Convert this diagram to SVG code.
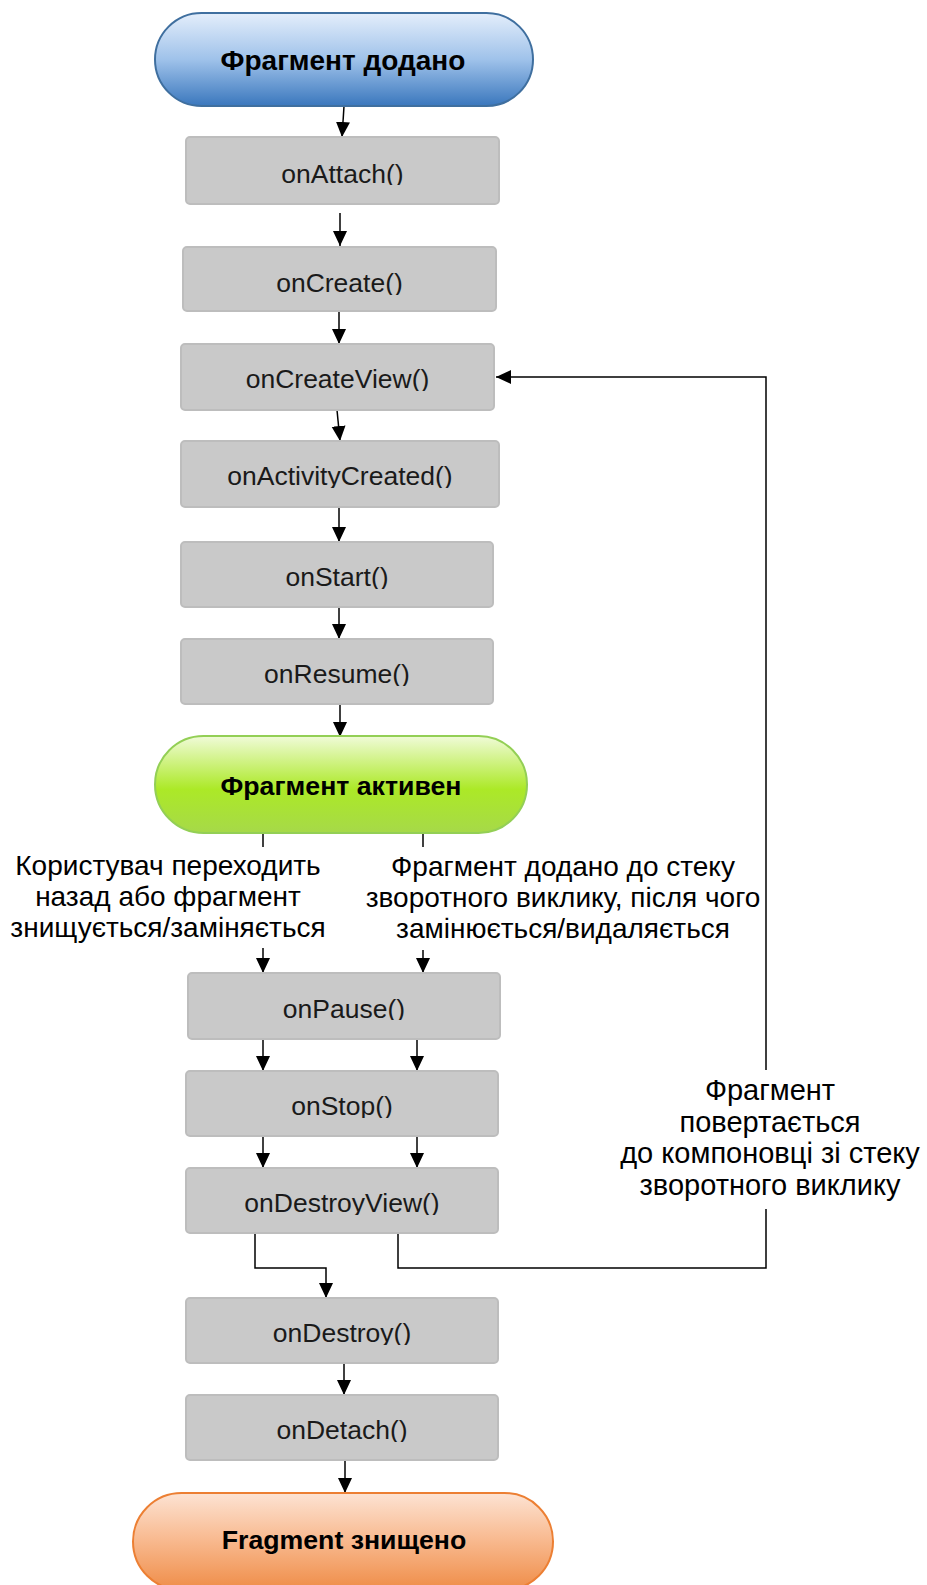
<svg xmlns="http://www.w3.org/2000/svg" width="927" height="1585" viewBox="0 0 927 1585">
  <defs>
    <linearGradient id="gBlue" x1="0" y1="0" x2="0" y2="1">
      <stop offset="0" stop-color="#e4eefb"/>
      <stop offset="0.5" stop-color="#9fc2ea"/>
      <stop offset="1" stop-color="#3a77bd"/>
    </linearGradient>
    <linearGradient id="gGreen" x1="0" y1="0" x2="0" y2="1">
      <stop offset="0" stop-color="#f0fbd8"/>
      <stop offset="0.55" stop-color="#ace927"/>
      <stop offset="1" stop-color="#a6d949"/>
    </linearGradient>
    <linearGradient id="gOrange" x1="0" y1="0" x2="0" y2="1">
      <stop offset="0" stop-color="#fde3d3"/>
      <stop offset="0.5" stop-color="#f8b88d"/>
      <stop offset="1" stop-color="#ef8d48"/>
    </linearGradient>
    <marker id="arrow" markerUnits="userSpaceOnUse" markerWidth="16" markerHeight="16" viewBox="0 0 16 16" refX="15" refY="8" orient="auto">
      <path d="M0,1 L15,8 L0,15 Z" fill="#000"/>
    </marker>
    <clipPath id="cAttach"><rect x="186" y="137" width="313" height="48"/></clipPath>
    <clipPath id="cCreate"><rect x="183" y="247" width="313" height="48"/></clipPath>
    <clipPath id="cCreateView"><rect x="181" y="344" width="313" height="47"/></clipPath>
    <clipPath id="cActivity"><rect x="181" y="441" width="318" height="47"/></clipPath>
    <clipPath id="cStart"><rect x="181" y="542" width="312" height="47"/></clipPath>
    <clipPath id="cResume"><rect x="181" y="639" width="312" height="47"/></clipPath>
    <clipPath id="cPause"><rect x="188" y="973" width="312" height="47"/></clipPath>
    <clipPath id="cStop"><rect x="186" y="1071" width="312" height="47"/></clipPath>
    <clipPath id="cDestroyView"><rect x="186" y="1168" width="312" height="47"/></clipPath>
    <clipPath id="cDestroy"><rect x="186" y="1298" width="312" height="47"/></clipPath>
    <clipPath id="cDetach"><rect x="186" y="1395" width="312" height="47"/></clipPath>
  </defs>
  <style>
    .box { fill: #c9c9c9; stroke: #bdbdbd; stroke-width: 2; }
    .lbl { font-family: "Liberation Sans", Arial, sans-serif; font-size: 26.5px; fill: #1a1a1a; text-anchor: middle; }
    .ttl { font-family: "Liberation Sans", Arial, sans-serif; font-size: 26.7px; font-weight: bold; fill: #000; text-anchor: middle; }
    .note { font-family: "Liberation Sans", Arial, sans-serif; font-size: 28px; fill: #000; text-anchor: middle; }
    .note2 { font-family: "Liberation Sans", Arial, sans-serif; font-size: 29px; fill: #000; text-anchor: middle; }
    .wire { fill: none; stroke: #000; stroke-width: 1.5; }
  </style>

  <rect width="927" height="1585" fill="#fff"/>

  <!-- connectors -->
  <g id="connectors">
    <path class="wire" d="M344,106 L342,137" marker-end="url(#arrow)"/>
    <path class="wire" d="M340,213 L340,246" marker-end="url(#arrow)"/>
    <path class="wire" d="M339,312 L339,344" marker-end="url(#arrow)"/>
    <path class="wire" d="M337,410 L340,441" marker-end="url(#arrow)"/>
    <path class="wire" d="M339,508 L339,542" marker-end="url(#arrow)"/>
    <path class="wire" d="M339,607 L339,639" marker-end="url(#arrow)"/>
    <path class="wire" d="M340,705 L340,737" marker-end="url(#arrow)"/>
    <path class="wire" d="M263,833 L263,847"/>
    <path class="wire" d="M423,833 L423,847"/>
    <path class="wire" d="M263,948 L263,973" marker-end="url(#arrow)"/>
    <path class="wire" d="M423,950 L423,973" marker-end="url(#arrow)"/>
    <path class="wire" d="M263,1039 L263,1071" marker-end="url(#arrow)"/>
    <path class="wire" d="M417,1039 L417,1071" marker-end="url(#arrow)"/>
    <path class="wire" d="M263,1136 L263,1168" marker-end="url(#arrow)"/>
    <path class="wire" d="M417,1136 L417,1168" marker-end="url(#arrow)"/>
    <path class="wire" d="M255,1233 L255,1268 L326,1268 L326,1298" marker-end="url(#arrow)"/>
    <path class="wire" d="M398,1233 L398,1268 L766,1268 L766,1209"/>
    <path class="wire" d="M766,1070 L766,377 L496,377" marker-end="url(#arrow)"/>
    <path class="wire" d="M344,1364 L344,1395" marker-end="url(#arrow)"/>
    <path class="wire" d="M345,1461 L345,1493" marker-end="url(#arrow)"/>
  </g>

  <!-- start / active / end states -->
  <g id="fragmentAdded">
    <rect x="155" y="13" width="378" height="93" rx="46.5" fill="url(#gBlue)" stroke="#3f6f9f" stroke-width="2"/>
    <text class="ttl" x="343" y="70" style="font-size:28px">Фрагмент додано</text>
  </g>
  <g id="fragmentActive">
    <rect x="155" y="736" width="372" height="97" rx="48.5" fill="url(#gGreen)" stroke="#93cf55" stroke-width="2"/>
    <text class="ttl" x="341" y="795">Фрагмент активен</text>
  </g>
  <g id="fragmentDestroyed">
    <rect x="133" y="1493" width="420" height="97" rx="48.5" fill="url(#gOrange)" stroke="#ec7f33" stroke-width="2"/>
    <text class="ttl" x="344" y="1549">Fragment знищено</text>
  </g>

  <!-- lifecycle callbacks -->
  <g id="onAttach">
    <rect class="box" x="186" y="137" width="313" height="67" rx="4"/>
    <text class="lbl" x="342.5" y="183" clip-path="url(#cAttach)">onAttach()</text>
  </g>
  <g id="onCreate">
    <rect class="box" x="183" y="247" width="313" height="64" rx="4"/>
    <text class="lbl" x="339.5" y="292" clip-path="url(#cCreate)">onCreate()</text>
  </g>
  <g id="onCreateView">
    <rect class="box" x="181" y="344" width="313" height="66" rx="4"/>
    <text class="lbl" x="337.5" y="388" clip-path="url(#cCreateView)">onCreateView()</text>
  </g>
  <g id="onActivityCreated">
    <rect class="box" x="181" y="441" width="318" height="66" rx="4"/>
    <text class="lbl" x="340" y="485" clip-path="url(#cActivity)">onActivityCreated()</text>
  </g>
  <g id="onStart">
    <rect class="box" x="181" y="542" width="312" height="65" rx="4"/>
    <text class="lbl" x="337" y="586" clip-path="url(#cStart)">onStart()</text>
  </g>
  <g id="onResume">
    <rect class="box" x="181" y="639" width="312" height="65" rx="4"/>
    <text class="lbl" x="337" y="683" clip-path="url(#cResume)">onResume()</text>
  </g>
  <g id="onPause">
    <rect class="box" x="188" y="973" width="312" height="66" rx="4"/>
    <text class="lbl" x="344" y="1018" clip-path="url(#cPause)">onPause()</text>
  </g>
  <g id="onStop">
    <rect class="box" x="186" y="1071" width="312" height="65" rx="4"/>
    <text class="lbl" x="342" y="1115" clip-path="url(#cStop)">onStop()</text>
  </g>
  <g id="onDestroyView">
    <rect class="box" x="186" y="1168" width="312" height="65" rx="4"/>
    <text class="lbl" x="342" y="1212" clip-path="url(#cDestroyView)">onDestroyView()</text>
  </g>
  <g id="onDestroy">
    <rect class="box" x="186" y="1298" width="312" height="65" rx="4"/>
    <text class="lbl" x="342" y="1342" clip-path="url(#cDestroy)">onDestroy()</text>
  </g>
  <g id="onDetach">
    <rect class="box" x="186" y="1395" width="312" height="65" rx="4"/>
    <text class="lbl" x="342" y="1439" clip-path="url(#cDetach)">onDetach()</text>
  </g>

  <!-- transition notes -->
  <g id="noteUserBack">
    <text class="note" x="168" y="875">Користувач переходить</text>
    <text class="note" x="168" y="906">назад або фрагмент</text>
    <text class="note" x="168" y="937">знищується/заміняється</text>
  </g>
  <g id="noteBackStack">
    <text class="note" x="563" y="876">Фрагмент додано до стеку</text>
    <text class="note" x="563" y="907">зворотного виклику, після чого</text>
    <text class="note" x="563" y="938">замінюється/видаляється</text>
  </g>
  <g id="noteReturn">
    <text class="note2" x="770" y="1100">Фрагмент</text>
    <text class="note2" x="770" y="1131.5">повертається</text>
    <text class="note2" x="770" y="1163">до компоновці зі стеку</text>
    <text class="note2" x="770" y="1194.5">зворотного виклику</text>
  </g>
</svg>
